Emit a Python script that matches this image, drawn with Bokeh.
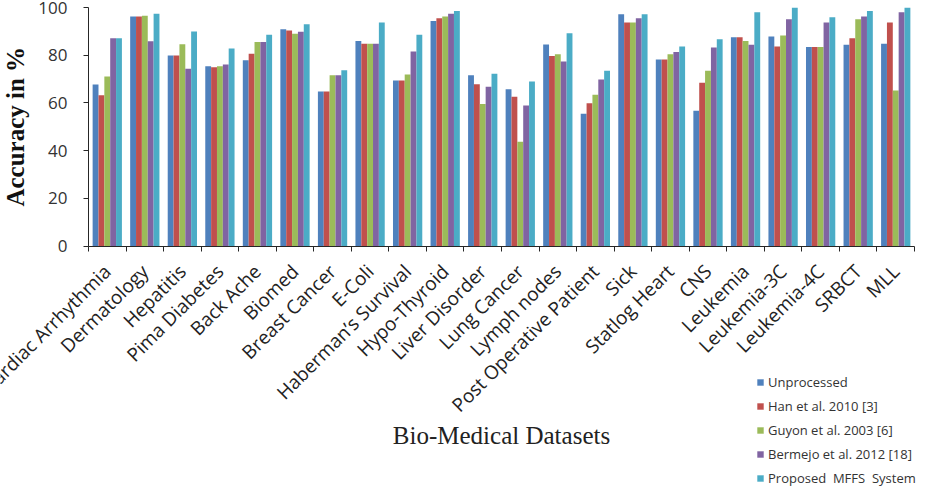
import numpy as np
from bokeh.plotting import figure
from bokeh.models import Range1d, FixedTicker, Label, ColumnDataSource
from bokeh.core.properties import value
from bokeh.embed import file_html
from bokeh.resources import INLINE

# Classification accuracy (%) per bio-medical dataset
categories = ["Cardiac Arrhythmia", "Dermatology", "Hepatitis", "Pima Diabetes",
              "Back Ache", "Biomed", "Breast Cancer", "E-Coli",
              "Haberman\u2019s Survival", "Hypo-Thyroid", "Liver Disorder",
              "Lung Cancer", "Lymph nodes", "Post Operative Patient", "Sick",
              "Statlog Heart", "CNS", "Leukemia", "Leukemia-3C", "Leukemia-4C",
              "SRBCT", "MLL"]

unprocessed = [67.7, 96.2, 79.9, 75.4, 77.9, 90.9, 64.8, 86.0, 69.4, 94.3, 71.6,
               65.7, 84.5, 55.4, 97.2, 78.2, 56.7, 87.5, 87.8, 83.4, 84.4, 84.8]
han_2010 = [63.2, 96.2, 79.9, 75.0, 80.6, 90.4, 64.8, 84.8, 69.4, 95.5, 67.8,
            62.6, 79.7, 59.9, 93.7, 78.2, 68.4, 87.5, 83.6, 83.4, 87.1, 93.7]
guyon_2003 = [71.1, 96.5, 84.6, 75.4, 85.5, 89.0, 71.6, 84.8, 71.9, 96.2, 59.5,
              43.7, 80.4, 63.4, 93.7, 80.4, 73.5, 86.0, 88.3, 83.4, 95.1, 65.2]
bermejo_2012 = [87.1, 85.9, 74.3, 76.1, 85.5, 89.8, 71.6, 84.8, 81.6, 97.4, 66.8,
                58.9, 77.4, 69.8, 95.5, 81.3, 83.2, 84.4, 95.1, 93.7, 96.2, 98.0]
proposed_mffs = [87.1, 97.4, 89.9, 82.8, 88.6, 93.0, 73.7, 93.7, 88.6, 98.5, 72.2,
                 69.0, 89.2, 73.5, 97.2, 83.6, 86.7, 98.0, 99.9, 95.9, 98.5, 99.9]

series_names = ["Unprocessed", "Han et al. 2010 [3]", "Guyon et al. 2003 [6]",
                "Bermejo et al. 2012 [18]", "Proposed  MFFS  System"]
series_values = [unprocessed, han_2010, guyon_2003, bermejo_2012, proposed_mffs]
series_colors = ["#4F81BD", "#C0504D", "#9BBB59", "#8064A2", "#4BACC6"]
y_ticks = [0, 20, 40, 60, 80, 100]

n = len(categories)

# The frame fills the whole canvas; the bar area sits inside it, between
# these canvas pixel positions, and both axes are pinned at the data origin.
W, H = 932, 490
left_px, right_px = 88, 914
top_px, zero_px = 7, 245.5
px_x = (right_px - left_px) / n
px_y = (zero_px - top_px) / 100.0
x_lo, x_hi = -left_px / px_x, n + (W - right_px) / px_x
y_lo, y_hi = -(H - zero_px) / px_y, 100 + top_px / px_y

centers = np.arange(n) + 0.5
bar_w = 0.156

p = figure(width=W, height=H, output_backend="svg", toolbar_location=None,
           x_range=Range1d(x_lo, x_hi), y_range=Range1d(y_lo, y_hi),
           min_border=0, min_border_left=0, min_border_right=0,
           min_border_top=0, min_border_bottom=0)
p.outline_line_color = None
p.xgrid.grid_line_color = None
p.ygrid.grid_line_color = None

for k, (name, vals, col) in enumerate(zip(series_names, series_values, series_colors)):
    src = ColumnDataSource(dict(x=centers + (k - 2) * bar_w, top=vals))
    p.vbar(x="x", top="top", width=bar_w, source=src, fill_color=col,
           line_color=None, legend_label=name)

# y axis, 0-100 %
ya = p.yaxis[0]
ya.fixed_location = 0
ya.bounds = (0, 100)
ya.ticker = FixedTicker(ticks=y_ticks)
ya.minor_tick_line_color = None
ya.major_tick_in = 0
ya.major_tick_out = 5
ya.axis_line_color = "#262626"
ya.major_tick_line_color = "#262626"
ya.major_label_text_font = "Open Sans"
ya.major_label_text_font_size = "17px"
ya.major_label_text_color = "#333333"
ya.major_label_standoff = 16

p.add_layout(Label(x=-73 / px_x, y=50, text="Accuracy in %", angle=np.pi / 2,
                   text_align="center", text_baseline="middle",
                   text_font="Liberation Serif", text_font_style="bold",
                   text_font_size="25px", text_color="#111111"))

# x axis: line and tick marks between groups (names drawn as slanted text)
xa = p.xaxis[0]
xa.fixed_location = 0
xa.bounds = (0, n)
xa.ticker = FixedTicker(ticks=[], minor_ticks=list(np.arange(n + 1)))
xa.major_label_text_font_size = "0px"
xa.major_tick_line_color = None
xa.minor_tick_in = 0
xa.minor_tick_out = 5
xa.minor_tick_line_color = "#262626"
xa.axis_line_color = "#262626"

name_src = ColumnDataSource(dict(x=centers, y=np.zeros(n), name=categories))
p.text(x="x", y="y", text="name", source=name_src, angle=np.pi / 4,
       y_offset=22, text_align="right", text_baseline="middle",
       text_font=value("Open Sans"), text_font_size="19px", text_color="#222222")

p.add_layout(Label(x=n / 2, y=-79.5, text="Bio-Medical Datasets",
                   text_align="center", text_baseline="middle",
                   text_font="Liberation Serif", text_font_size="25px",
                   text_color="#222222"))

lg = p.legend[0]
lg.location = (756, 3)
lg.border_line_color = None
lg.background_fill_alpha = 0
lg.padding = 0
lg.margin = 0
lg.glyph_width = 8
lg.glyph_height = 8
lg.label_height = 16
lg.label_standoff = 4
lg.spacing = 6
lg.label_text_font = "Open Sans"
lg.label_text_font_size = "13px"
lg.label_text_color = "#333333"

open("out.html", "w").write(file_html(p, INLINE))
